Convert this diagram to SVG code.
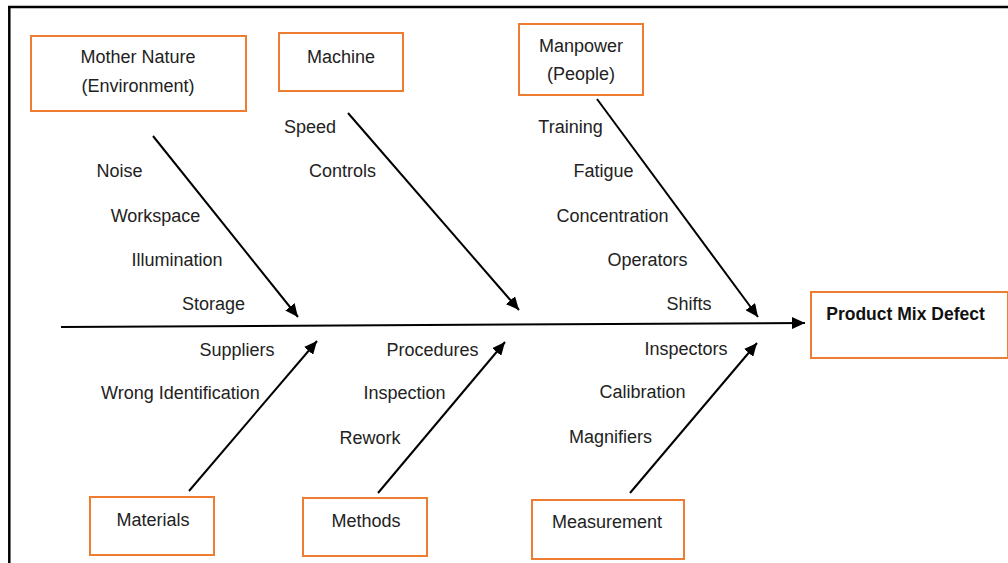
<svg xmlns="http://www.w3.org/2000/svg" width="1008" height="563" viewBox="0 0 1008 563">
<defs>
<marker id="ah" markerUnits="userSpaceOnUse" markerWidth="14" markerHeight="12" refX="13" refY="6" orient="auto">
<path d="M0,0 L13,6 L0,12 Z" fill="#000"/>
</marker>
<style>
.box{fill:#fff;stroke:#ED7D31;stroke-width:2}
.t{font-family:"Liberation Sans",Arial,sans-serif;font-size:18px;fill:#222;text-anchor:middle}
.b{font-weight:bold;fill:#111;font-size:17.5px}
.ln{stroke:#000;stroke-width:2;fill:none}
</style>
</defs>
<rect width="1008" height="563" fill="#fff"/>
<g id="frame">
<line x1="8" y1="7" x2="1008" y2="7" stroke="#000" stroke-width="2.5"/>
<line x1="9.3" y1="6" x2="9.3" y2="563" stroke="#000" stroke-width="2.5"/>
</g>
<g id="connectors">
<line class="ln" x1="61" y1="327" x2="805" y2="323" stroke-width="3" marker-end="url(#ah)"/>
<line class="ln" x1="153" y1="136" x2="298" y2="317" marker-end="url(#ah)"/>
<line class="ln" x1="348" y1="113" x2="519" y2="310" marker-end="url(#ah)"/>
<line class="ln" x1="597" y1="99" x2="758" y2="317" marker-end="url(#ah)"/>
<line class="ln" x1="189" y1="491" x2="317" y2="341" marker-end="url(#ah)"/>
<line class="ln" x1="378" y1="493" x2="505" y2="342" marker-end="url(#ah)"/>
<line class="ln" x1="630" y1="493" x2="757" y2="343" marker-end="url(#ah)"/>
</g>
<g id="mother-nature">
<rect class="box" x="31" y="36" width="215" height="75"/>
<text class="t" x="138" y="63">Mother Nature</text>
<text class="t" x="138" y="92">(Environment)</text>
</g>
<g id="machine">
<rect class="box" x="279" y="33" width="124" height="58"/>
<text class="t" x="341" y="63">Machine</text>
</g>
<g id="manpower">
<rect class="box" x="519" y="24" width="124" height="71"/>
<text class="t" x="581" y="52">Manpower</text>
<text class="t" x="581" y="80">(People)</text>
</g>
<g id="product-mix-defect">
<rect class="box" x="811" y="292" width="197" height="66"/>
<text class="t b" x="905.5" y="320">Product Mix Defect</text>
</g>
<g id="materials">
<rect class="box" x="90" y="497" width="124" height="58"/>
<text class="t" x="153" y="526">Materials</text>
</g>
<g id="methods">
<rect class="box" x="303" y="498" width="124" height="58"/>
<text class="t" x="366" y="527">Methods</text>
</g>
<g id="measurement">
<rect class="box" x="532" y="500" width="152" height="59"/>
<text class="t" x="607" y="528">Measurement</text>
</g>
<g id="labels">
<text class="t" x="310" y="133">Speed</text>
<text class="t" x="342.5" y="177">Controls</text>
<text class="t" x="119.5" y="177">Noise</text>
<text class="t" x="155.5" y="222">Workspace</text>
<text class="t" x="177" y="266">Illumination</text>
<text class="t" x="213.5" y="310">Storage</text>
<text class="t" x="570.5" y="133">Training</text>
<text class="t" x="603.5" y="177">Fatigue</text>
<text class="t" x="612.5" y="222">Concentration</text>
<text class="t" x="647.5" y="266">Operators</text>
<text class="t" x="689" y="310">Shifts</text>
<text class="t" x="237" y="356">Suppliers</text>
<text class="t" x="180.5" y="399">Wrong Identification</text>
<text class="t" x="432.5" y="356">Procedures</text>
<text class="t" x="404.5" y="399">Inspection</text>
<text class="t" x="370" y="444">Rework</text>
<text class="t" x="686" y="355">Inspectors</text>
<text class="t" x="642.5" y="398">Calibration</text>
<text class="t" x="610.5" y="443">Magnifiers</text>
</g>
</svg>
